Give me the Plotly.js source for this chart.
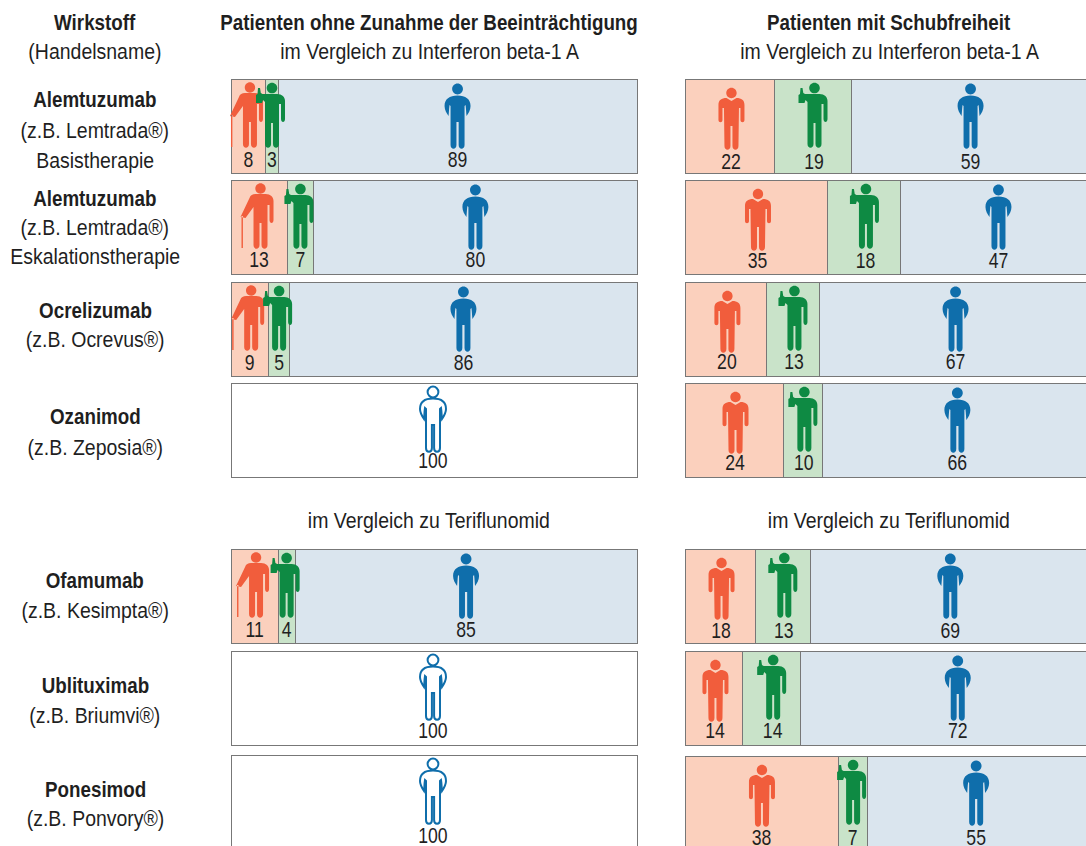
<!DOCTYPE html>
<html><head><meta charset="utf-8">
<script src="https://cdn.plot.ly/plotly-3.0.1.min.js"></script>
<style>html,body{margin:0;padding:0;background:#fff;overflow:hidden}#c{width:1086px;height:846px}</style>
</head><body><div id="c"></div>
<script>
// printed values per drug (percent)
const leftWorseLabels  = [8, 13, 9, null, 11, null, null];
const leftBetterLabels = [3, 7, 5, null, 4, null, null];
const leftEqualLabels  = [89, 80, 86, null, 85, null, null];
const leftNoDiffLabels = [null, null, null, 100, null, 100, 100];
const rightWorseLabels  = [22, 35, 20, 24, 18, 14, 38];
const rightBetterLabels = [19, 18, 13, 10, 13, 14, 7];
const rightEqualLabels  = [59, 47, 67, 66, 69, 72, 55];

// segment lengths as they appear in the picture (percent of the bar)
const leftWorse  = [8.6, 13.8, 9.2, null, 11.6, null, null];
const leftBetter = [3, 6.6, 5.3, null, 4.2, null, null];
const leftEqual  = [88.4, 79.6, 85.5, null, 84.2, null, null];
const leftNoDiff = [null, null, null, 100, null, 100, 100];
const rightWorse  = [22.2, 35.3, 20.2, 24.2, 17.3, 14.3, 38];
const rightBetter = [18.8, 18, 12.9, 9.8, 13.7, 14.2, 7];
const rightEqual  = [59, 46.7, 66.9, 66, 69, 71.5, 55];

const drugNames = ['Alemtuzumab','Alemtuzumab','Ocrelizumab','Ozanimod','Ofamumab','Ublituximab','Ponesimod'];
const brandNames = ['(z.B. Lemtrada®)','(z.B. Lemtrada®)','(z.B. Ocrevus®)','(z.B. Zeposia®)','(z.B. Kesimpta®)','(z.B. Briumvi®)','(z.B. Ponvory®)'];
const therapyNotes = ['Basistherapie','Eskalationstherapie','','','','',''];

// layout
const W = 1086, H = 846, BAR_H = 94;
const leftRows  = [126, 227, 329, 430, 596, 698, 802];
const rightRows = [126, 227, 329, 430, 596, 698, 803];
const drugLineY  = [100, 198, 310, 416, 580, 685, 789];
const brandLineY = [130, 227, 339, 447, 610, 715, 818];
const noteLineY  = [160, 256];
const leftLabelDy  = [35, 34, 35, 32, 35, 34, 35];
const rightLabelDy = [37, 35, 34, 34, 36, 34, 36];
const rightEqualNudge = [0, 3, 1, 1, 0, 12.5, -1];
const rightRowNudge = [0, 0, 0, 0, 0, 0, -1.5];
const C = {
  worse:'#fbd0bd', better:'#c9e3c9', equal:'#dae5ee', none:'#ffffff', edge:'#777777',
  worseInk:'#f15d3c', betterInk:'#0e8a43', equalInk:'#0f6eab', text:'#1f1f1f'
};
const FONT = '"Liberation Sans",sans-serif';
const TEXT_SIZE = 22.5, DIGIT_SIZE = 22;
const SQUEEZE = {regular:0.865, bold:0.835, digits:0.8};

function bar(name, xs, ys, color, axis){
  return {type:'bar', orientation:'h', name, x:xs, y:ys, width:BAR_H, xaxis:axis, yaxis:'y',
    marker:{color, line:{color:C.edge, width:1}}, hoverinfo:'x+name'};
}

// Icon geometry: [command, x, y, ...] in px, y downward from the anchor
const K = 0.5523;
function head(cy, r){
  return [['M',0,cy-r],['C',K*r,cy-r,r,cy-K*r,r,cy],['C',r,cy+K*r,K*r,cy+r,0,cy+r],
          ['C',-K*r,cy+r,-r,cy+K*r,-r,cy],['C',-r,cy-K*r,-K*r,cy-r,0,cy-r],['Z']];
}
const ICONS = {
  equal: head(-37,5.4).concat([['M',0,-30.5],['C',8,-30.5,13,-27,13,-20],['C',13,-16,11,-13,9,-10],['C',8.6,-13,8.6,-17,8,-21],['L',7,-20],
    ['L',7,19],['C',7,24,1.1,24,1.1,19],['L',1.1,-4],['L',-1.1,-4],['L',-1.1,19],['C',-1.1,24,-7,24,-7,19],
    ['L',-7,-20],['L',-8,-21],['C',-8.6,-17,-8.6,-13,-9,-10],['C',-11,-13,-13,-16,-13,-20],['C',-13,-27,-8,-30.5,0,-30.5],['Z']]),
  worse: head(-33,5.2).concat([['M',-5,-28],['L',0,-25],['L',5,-28],['C',10,-28,13,-26,13,-21],['L',13,-6],['C',13,-3,9,-3,9,-6],
    ['L',9,-18],['L',7.5,-18],['L',7,20],['C',7,25,1,25,1,20],['L',1,0],['L',-1,0],['L',-1,20],['C',-1,25,-7,25,-7,20],
    ['L',-7.5,-18],['L',-9,-18],['L',-9,-6],['C',-9,-3,-13,-3,-13,-6],['L',-13,-21],['C',-13,-26,-10,-28,-5,-28],['Z']]),
  cane: head(-38.5,5.2).concat([['M',-5,-33],['L',5,-33],['C',10,-33,13,-30,13,-26],['L',13,-7],['C',13,-3,9,-3,9,-7],
    ['L',9,-22],['L',7,-22],['L',7,18],['C',7,23,1,23,1,18],['L',1,-4],['L',-1,-4],['L',-1,18],['C',-1,23,-7,23,-7,18],
    ['L',-7,-20],['L',-15,-9],['L',-20,-10],['L',-11,-29],['C',-10,-32,-8,-33,-5,-33],['Z'],
    ['M',-19,-11],['L',-17.6,-11],['L',-17.6,21],['L',-19,21],['Z']]),
  better: head(-38,5.3).concat([['M',-5,-32],['L',5,-32],['C',10,-32,13,-29,13,-25],['L',13,-7],['C',13,-3,9,-3,9,-7],
    ['L',9,-22],['L',7,-22],['L',7,18],['C',7,23,1,23,1,18],['L',1,-3],['L',-1,-3],['L',-1,18],['C',-1,23,-7,23,-7,18],
    ['L',-7,-24],['L',-9,-26],['L',-10,-23],['L',-16,-23],['L',-16,-31],['L',-14.5,-32],['L',-14,-38],['L',-12,-38],['L',-11.2,-33],['L',-9.5,-32],['Z']])
};
function toPath(segments, dx, dy){
  return segments.map(s=>{
    const out=[s[0]];
    for(let i=1;i<s.length;i+=2){ out.push((s[i]+dx).toFixed(2)); out.push((-(s[i+1]+dy)).toFixed(2)); }
    return out[0]+out.slice(1).join(' ');
  }).join(' ');
}
function icon(kind, ink, axis, x, y, dx, dy, outlined){
  return {type:'path', layer:'above', xref:axis, yref:'y', xsizemode:'pixel', ysizemode:'pixel',
    xanchor:x, yanchor:y, path:toPath(ICONS[kind],dx||0,dy||0),
    fillcolor: outlined ? '#ffffff' : ink, line:{color:ink, width:outlined?2:0}};
}

const traces = [
  bar('Verschlechterung', leftWorse, leftRows, C.worse, 'x'),
  bar('Vorteil', leftBetter, leftRows, C.better, 'x'),
  bar('Gleich', leftEqual, leftRows, C.equal, 'x'),
  bar('Kein Unterschied', leftNoDiff, leftRows, C.none, 'x'),
  bar('Verschlechterung', rightWorse, rightRows, C.worse, 'x2'),
  bar('Vorteil', rightBetter, rightRows, C.better, 'x2'),
  bar('Gleich', rightEqual, rightRows, C.equal, 'x2')
];

const shapes = [];
const labelX = [], labelY = [], labelT = [], labelX2 = [], labelY2 = [], labelT2 = [];
const PX_RIGHT = 4.05;

leftRows.forEach((y,i)=>{
  const dyL = leftLabelDy[i];
  if(leftWorse[i] == null){
    shapes.push(icon('equal', C.equalInk, 'x', 50, y, -1, -1, true));
    labelX.push(50-0.25); labelY.push(y+dyL); labelT.push(String(leftNoDiffLabels[i]));
    return;
  }
  const a = leftWorse[i]/2, b = leftWorse[i]+leftBetter[i]/2, c = leftWorse[i]+leftBetter[i]+leftEqual[i]/2;
  shapes.push(icon('cane', C.worseInk, 'x', a, y, 1.5, 0));
  shapes.push(icon('equal', C.equalInk, 'x', c, y, 0, 0));
  shapes.push(icon('better', C.betterInk, 'x', b, y, 0, 0));
  [[a,leftWorseLabels],[b,leftBetterLabels],[c,leftEqualLabels]].forEach(([cx,arr])=>{
    labelX.push(cx); labelY.push(y+dyL); labelT.push(String(arr[i]));
  });
});
rightRows.forEach((y,i)=>{
  const dyL = rightLabelDy[i];
  const a = rightWorse[i]/2, b = rightWorse[i]+rightBetter[i]/2, c = rightWorse[i]+rightBetter[i]+rightEqual[i]/2;
  const n = rightEqualNudge[i], r = rightRowNudge[i];
  shapes.push(icon('worse', C.worseInk, 'x2', a, y, 1.5+r, 0));
  shapes.push(icon('equal', C.equalInk, 'x2', c, y, n+r, 0));
  shapes.push(icon('better', C.betterInk, 'x2', b, y, 1.5+r, 0));
  [[a+(1+r)/PX_RIGHT,rightWorseLabels],[b+(1+r)/PX_RIGHT,rightBetterLabels],[c+(n+r)/PX_RIGHT,rightEqualLabels]].forEach(([cx,arr])=>{
    labelX2.push(cx); labelY2.push(y+dyL); labelT2.push(String(arr[i]));
  });
});
const labelStyle = {type:'scatter', mode:'text', hoverinfo:'skip', textposition:'middle center', cliponaxis:false,
  textfont:{family:FONT, size:DIGIT_SIZE, color:C.text}};
traces.push(Object.assign({x:labelX, y:labelY, text:labelT, xaxis:'x', yaxis:'y'}, labelStyle));
traces.push(Object.assign({x:labelX2, y:labelY2, text:labelT2, xaxis:'x2', yaxis:'y'}, labelStyle));

function note(text, cx, y, bold){
  return {xref:'paper', yref:'paper', x:cx/W, y:1-y/H, xanchor:'center', yanchor:'middle', showarrow:false,
    text: bold ? '<b>'+text+'</b>' : text, font:{family:FONT, size:TEXT_SIZE, color:C.text}};
}
const annotations = [
  note('Wirkstoff', 95, 22, true), note('(Handelsname)', 95, 51),
  note('Patienten ohne Zunahme der Beeinträchtigung', 429, 22, true),
  note('im Vergleich zu Interferon beta-1 A', 429, 52),
  note('Patienten mit Schubfreiheit', 889, 22, true),
  note('im Vergleich zu Interferon beta-1 A', 889, 52),
  note('im Vergleich zu Teriflunomid', 429, 520),
  note('im Vergleich zu Teriflunomid', 889, 520)
];
drugNames.forEach((d,i)=>{
  annotations.push(note(d, 95, drugLineY[i], true));
  annotations.push(note(brandNames[i], 95, brandLineY[i]));
  if(therapyNotes[i]) annotations.push(note(therapyNotes[i], 95, noteLineY[i]));
});

const layout = {
  width:W, height:H, margin:{l:0,r:0,t:0,b:0,pad:0}, paper_bgcolor:'#fff', plot_bgcolor:'#fff',
  showlegend:false, barmode:'stack', font:{family:FONT, color:C.text},
  xaxis:{domain:[226.94/W, 641.06/W], range:[-1,101], visible:false, fixedrange:true},
  xaxis2:{domain:[680.95/W, 1], range:[-1,99], visible:false, fixedrange:true, anchor:'y'},
  yaxis:{domain:[0,1], range:[H,0], visible:false, fixedrange:true},
  shapes, annotations
};

// The reference uses a condensed typeface: condense the real text horizontally.
function condense(el, factor){
  const len = el.getComputedTextLength();
  if(len > 0){ el.setAttribute('textLength', (len*factor).toFixed(1)); el.setAttribute('lengthAdjust','spacingAndGlyphs'); }
}
Plotly.newPlot('c', traces, layout, {displayModeBar:false, responsive:false}).then(gd=>{
  gd.querySelectorAll('.annotation-text').forEach(t=>{
    const bold = t.innerHTML.indexOf('bold') >= 0;
    condense(t, bold ? SQUEEZE.bold : SQUEEZE.regular);
  });
  gd.querySelectorAll('.textpoint text').forEach(t=>condense(t, SQUEEZE.digits));
});
</script></body></html>
